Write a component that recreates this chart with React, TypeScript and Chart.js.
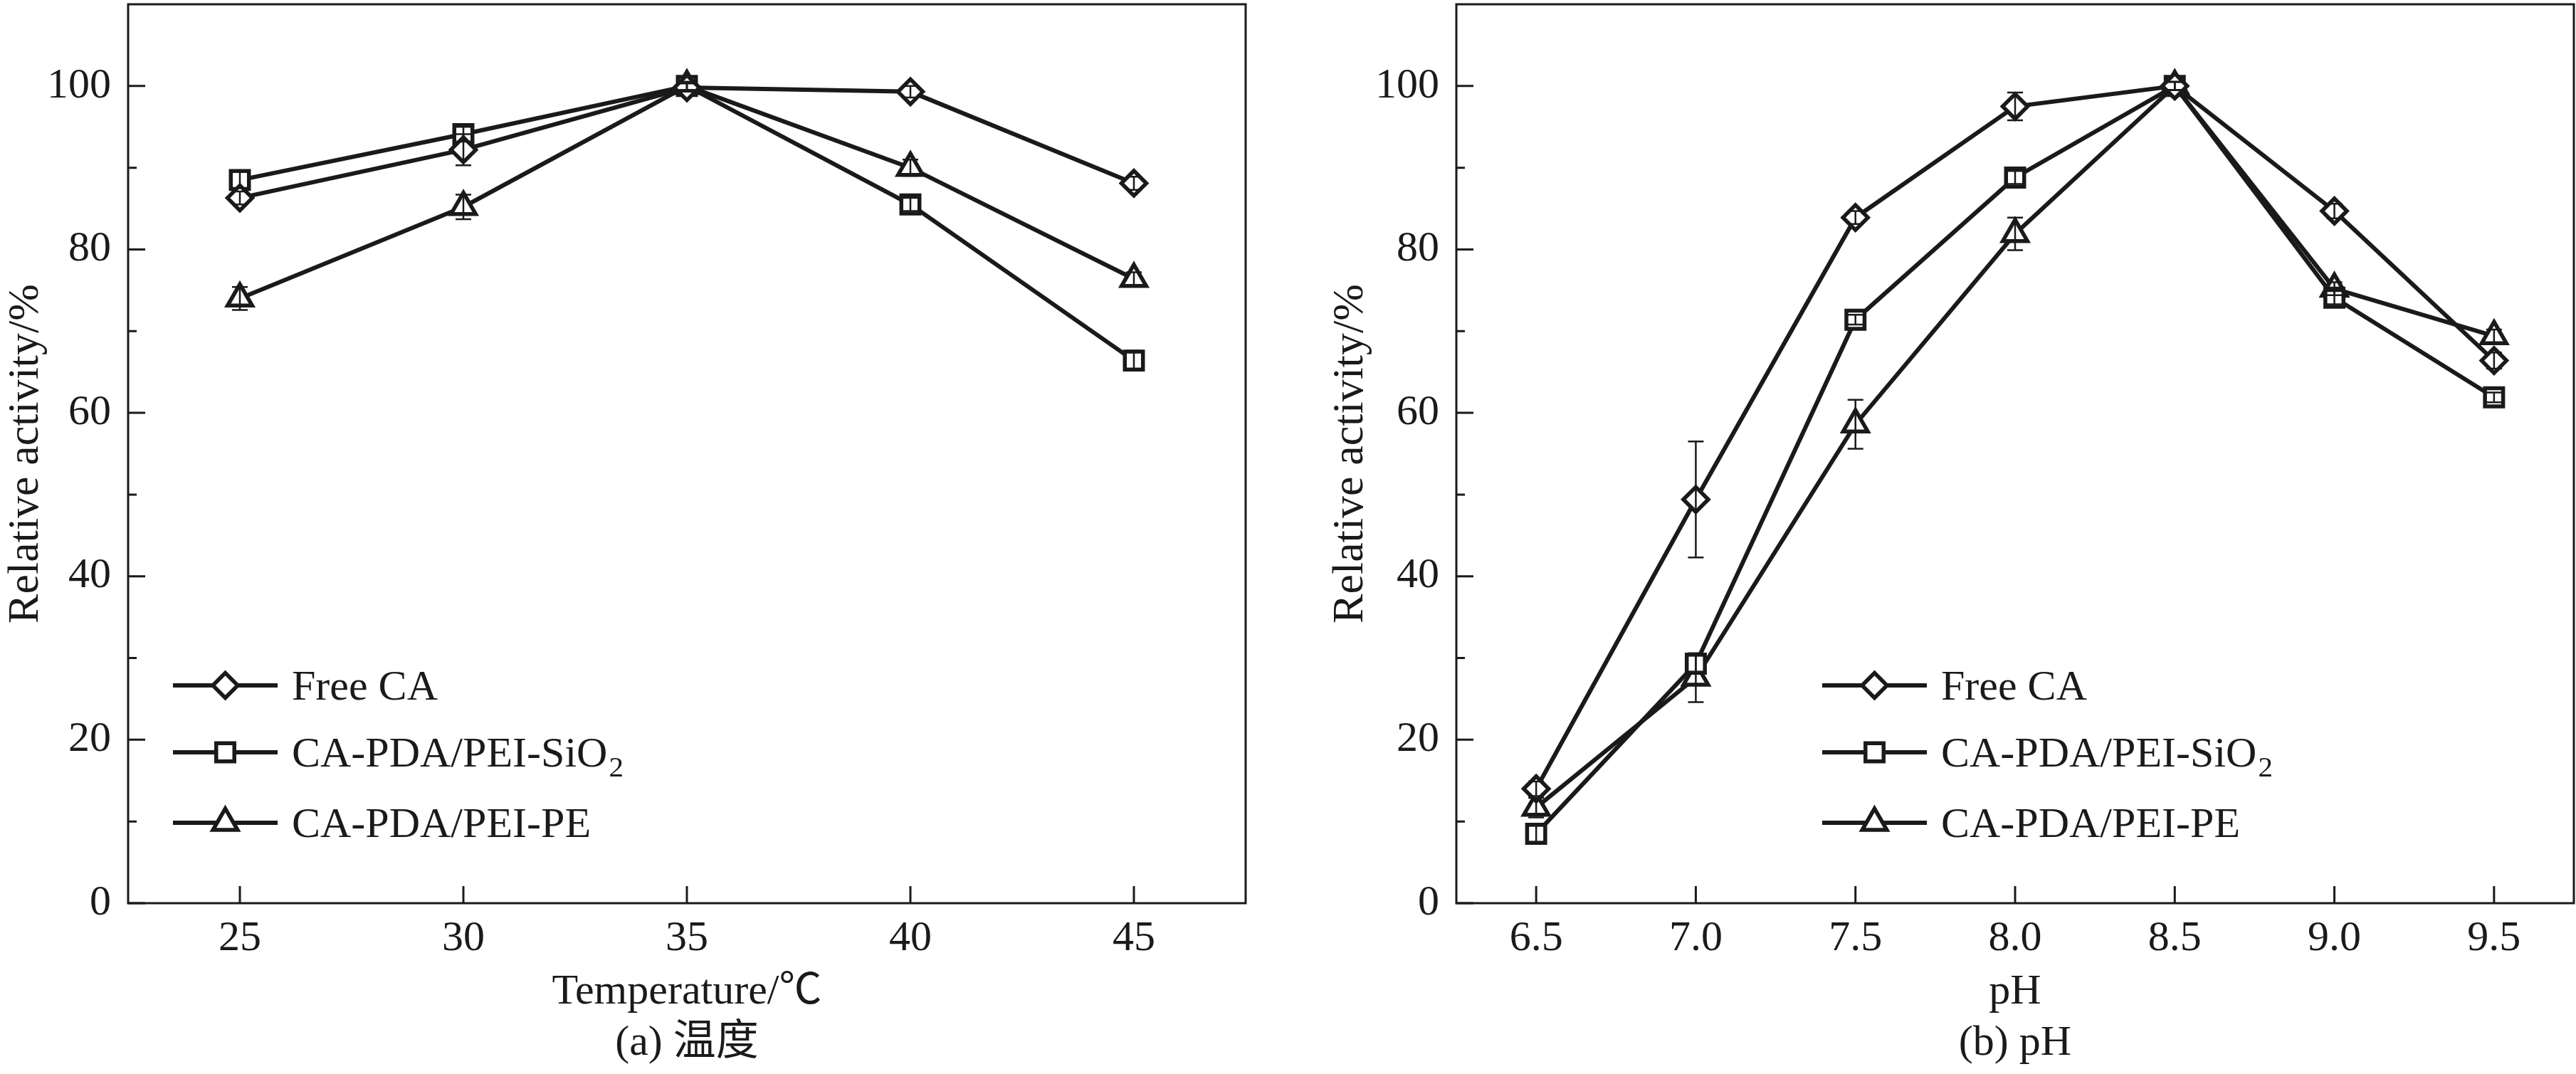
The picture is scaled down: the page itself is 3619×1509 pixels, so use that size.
import React, { useEffect, useRef } from "react";
import { Chart, registerables } from "chart.js";
import { drawPoint } from "chart.js/helpers";

Chart.register(...registerables);

// ---- data ----
const seriesNames = ["Free CA", "CA-PDA/PEI-SiO₂", "CA-PDA/PEI-PE"];
const pointStyles = ["rectRot", "rect", "triangle"];
const pointRadii = [17.5, 18, 20];

const temperatures = [25, 30, 35, 40, 45];
const tempFree = [86.3, 92.2, 99.8, 99.3, 88.1];
const tempSiO2 = [88.5, 94.1, 100, 85.5, 66.4];
const tempPE = [74.0, 85.2, 100, 90.0, 76.4];
const tempFreeErr = [0.8, 1.9, 0.5, 0.7, 0.8];
const tempSiO2Err = [1.0, 0.9, 0.5, 0.8, 1.2];
const tempPEErr = [1.4, 1.5, 0.5, 1.0, 0.8];

const phValues = [6.5, 7.0, 7.5, 8.0, 8.5, 9.0, 9.5];
const phFree = [14.0, 49.4, 83.9, 97.5, 100, 84.7, 66.4];
const phSiO2 = [8.5, 29.3, 71.4, 88.8, 100, 74.1, 61.9];
const phPE = [11.7, 27.6, 58.6, 81.9, 100, 75.2, 69.4];
const phFreeErr = [0.9, 7.1, 0.8, 1.7, 0.5, 0.9, 1.0];
const phSiO2Err = [1.0, 1.0, 0.6, 0.8, 0.5, 0.8, 0.6];
const phPEErr = [1.2, 3.0, 3.0, 2.0, 0.5, 0.8, 0.8];

const yTicks = [0, 20, 40, 60, 80, 100];
const yMinorTicks = [10, 30, 50, 70, 90];
const tempTicks = [25, 30, 35, 40, 45];
const phTicks = [6.5, 7.0, 7.5, 8.0, 8.5, 9.0, 9.5];

const INK = "#1a1a1a";
const FONT = "'Liberation Serif', 'Times New Roman', 'Noto Sans CJK SC', serif";
const FONT_SIZE = 60;

Chart.defaults.font.family = FONT;
Chart.defaults.font.size = FONT_SIZE;
Chart.defaults.color = INK;

// plot box + inward ticks
const framePlugin = {
  id: "frame",
  beforeDatasetsDraw(chart: any) {
    const { ctx, chartArea: a, scales } = chart;
    ctx.save();
    ctx.strokeStyle = INK;
    ctx.lineWidth = 3;
    ctx.strokeRect(a.left, a.top, a.right - a.left, a.bottom - a.top);
    ctx.beginPath();
    scales.y.ticks.forEach((t: any) => {
      const y = scales.y.getPixelForValue(t.value);
      ctx.moveTo(a.left, y);
      ctx.lineTo(a.left + 24, y);
    });
    yMinorTicks.forEach((v) => {
      const y = scales.y.getPixelForValue(v);
      ctx.moveTo(a.left, y);
      ctx.lineTo(a.left + 12, y);
    });
    scales.x.ticks.forEach((t: any) => {
      const x = scales.x.getPixelForValue(t.value);
      ctx.moveTo(x, a.bottom);
      ctx.lineTo(x, a.bottom - 24);
    });
    ctx.stroke();
    ctx.restore();
  },
};

// vertical error bars on top of the hollow markers
const errorBarPlugin = {
  id: "errorBars",
  afterDatasetsDraw(chart: any) {
    const { ctx, scales } = chart;
    ctx.save();
    ctx.strokeStyle = INK;
    ctx.lineWidth = 2.5;
    chart.data.datasets.forEach((ds: any) => {
      ds.data.forEach((p: any, j: number) => {
        const e = ds.errors[j];
        const x = scales.x.getPixelForValue(p.x);
        const y1 = scales.y.getPixelForValue(p.y + e);
        const y2 = scales.y.getPixelForValue(p.y - e);
        ctx.beginPath();
        ctx.moveTo(x, y1);
        ctx.lineTo(x, y2);
        ctx.moveTo(x - 11, y1);
        ctx.lineTo(x + 11, y1);
        ctx.moveTo(x - 11, y2);
        ctx.lineTo(x + 11, y2);
        ctx.stroke();
      });
    });
    ctx.restore();
  },
};

// legend: line - marker - line, then label (with subscript digits)
const legendPlugin = {
  id: "boxLegend",
  afterDraw(chart: any, _args: any, opts: any) {
    const { ctx, chartArea: a } = chart;
    const x0 = a.left + opts.left;
    const lineLen = 147;
    ctx.save();
    chart.data.datasets.forEach((ds: any, i: number) => {
      const y = a.bottom - opts.rows[i];
      ctx.strokeStyle = INK;
      ctx.lineWidth = 6;
      ctx.beginPath();
      ctx.moveTo(x0, y);
      ctx.lineTo(x0 + lineLen, y);
      ctx.stroke();
      ctx.fillStyle = "#ffffff";
      ctx.lineWidth = 5.5;
      drawPoint(
        ctx,
        { pointStyle: ds.pointStyle, radius: ds.pointRadius, rotation: 0, borderWidth: 5.5 },
        x0 + lineLen / 2,
        y
      );
      let tx = x0 + lineLen + 20;
      const base = y + 20;
      ctx.fillStyle = INK;
      ctx.textBaseline = "alphabetic";
      ctx.textAlign = "left";
      const parts = ds.label.split("₂");
      parts.forEach((part: string, k: number) => {
        ctx.font = `${FONT_SIZE}px ${FONT}`;
        ctx.fillText(part, tx, base);
        tx += ctx.measureText(part).width;
        if (k < parts.length - 1) {
          ctx.font = `${Math.round(FONT_SIZE * 0.68)}px ${FONT}`;
          ctx.fillText("2", tx + 2, base + 14);
          tx += ctx.measureText("2").width + 2;
        }
      });
    });
    ctx.restore();
  },
};

type PanelProps = {
  left: number;
  width: number;
  xs: number[];
  series: number[][];
  errors: number[][];
  xMin: number;
  xMax: number;
  xTicks: number[];
  digits: number;
  xTitle: string;
  caption: string;
  padLeft: number;
  padRight: number;
  yAxisWidth: number;
  legendLeft: number;
};

const Panel: React.FC<PanelProps> = (p) => {
  const canvasRef = useRef<HTMLCanvasElement | null>(null);

  useEffect(() => {
    if (!canvasRef.current) return;
    const chart = new Chart(canvasRef.current, {
      type: "line",
      data: {
        datasets: p.series.map((vals, i) => ({
          label: seriesNames[i],
          data: vals.map((v, j) => ({ x: p.xs[j], y: v })),
          errors: p.errors[i],
          borderColor: INK,
          borderWidth: 6,
          pointStyle: pointStyles[i],
          pointRadius: pointRadii[i],
          pointBorderWidth: 5.5,
          pointBorderColor: INK,
          pointBackgroundColor: "#ffffff",
          tension: 0,
          fill: false,
        })) as any,
      },
      options: {
        animation: false,
        responsive: true,
        maintainAspectRatio: false,
        layout: {
          autoPadding: false,
          padding: { left: p.padLeft, right: p.padRight, top: 6, bottom: 0 },
        },
        plugins: {
          legend: { display: false },
          tooltip: { enabled: false },
          boxLegend: { left: p.legendLeft, rows: [306, 212, 113] },
        } as any,
        scales: {
          x: {
            type: "linear",
            min: p.xMin,
            max: p.xMax,
            grid: { display: false, drawTicks: false },
            border: { display: false },
            afterBuildTicks: (s: any) => {
              s.ticks = p.xTicks.map((v) => ({ value: v }));
            },
            afterFit: (s: any) => {
              s.height = 240;
              s.paddingLeft = 0;
              s.paddingRight = 0;
            },
            ticks: {
              padding: 14,
              maxRotation: 0,
              autoSkip: false,
              callback: (v: any) => Number(v).toFixed(p.digits),
            },
            title: {
              display: true,
              text: [p.xTitle, p.caption],
              padding: { top: 0, bottom: 7 },
              font: { size: FONT_SIZE, lineHeight: 1.2 },
            },
          },
          y: {
            type: "linear",
            min: 0,
            max: 110,
            grid: { display: false, drawTicks: false },
            border: { display: false },
            afterBuildTicks: (s: any) => {
              s.ticks = yTicks.map((v) => ({ value: v }));
            },
            afterFit: (s: any) => {
              s.width = p.yAxisWidth;
              s.paddingTop = 0;
              s.paddingBottom = 0;
            },
            ticks: { padding: 24, autoSkip: false },
            title: {
              display: true,
              text: "Relative activity/%",
              padding: 0,
              font: { size: 62, lineHeight: 1.2 },
            },
          },
        },
      },
      plugins: [framePlugin, errorBarPlugin, legendPlugin],
    });
    return () => {
      chart.destroy();
    };
  }, []);

  return (
    <div style={{ position: "absolute", left: p.left, top: 0, width: p.width, height: 1509 }}>
      <canvas ref={canvasRef}></canvas>
    </div>
  );
};

export default function App() {
  return (
    <div
      style={{
        position: "absolute",
        left: 0,
        top: 0,
        width: 3619,
        height: 1509,
        background: "#ffffff",
        overflow: "hidden",
      }}
    >
      <Panel
        left={0}
        width={1800}
        xs={temperatures}
        series={[tempFree, tempSiO2, tempPE]}
        errors={[tempFreeErr, tempSiO2Err, tempPEErr]}
        xMin={22.5}
        xMax={47.5}
        xTicks={tempTicks}
        digits={0}
        xTitle="Temperature/℃"
        caption="(a) 温度"
        padLeft={0}
        padRight={50}
        yAxisWidth={180}
        legendLeft={63}
      />
      <Panel
        left={1800}
        width={1819}
        xs={phValues}
        series={[phFree, phSiO2, phPE]}
        errors={[phFreeErr, phSiO2Err, phPEErr]}
        xMin={6.25}
        xMax={9.75}
        xTicks={phTicks}
        digits={1}
        xTitle="pH"
        caption="(b) pH"
        padLeft={61}
        padRight={3}
        yAxisWidth={185}
        legendLeft={514}
      />
    </div>
  );
}
